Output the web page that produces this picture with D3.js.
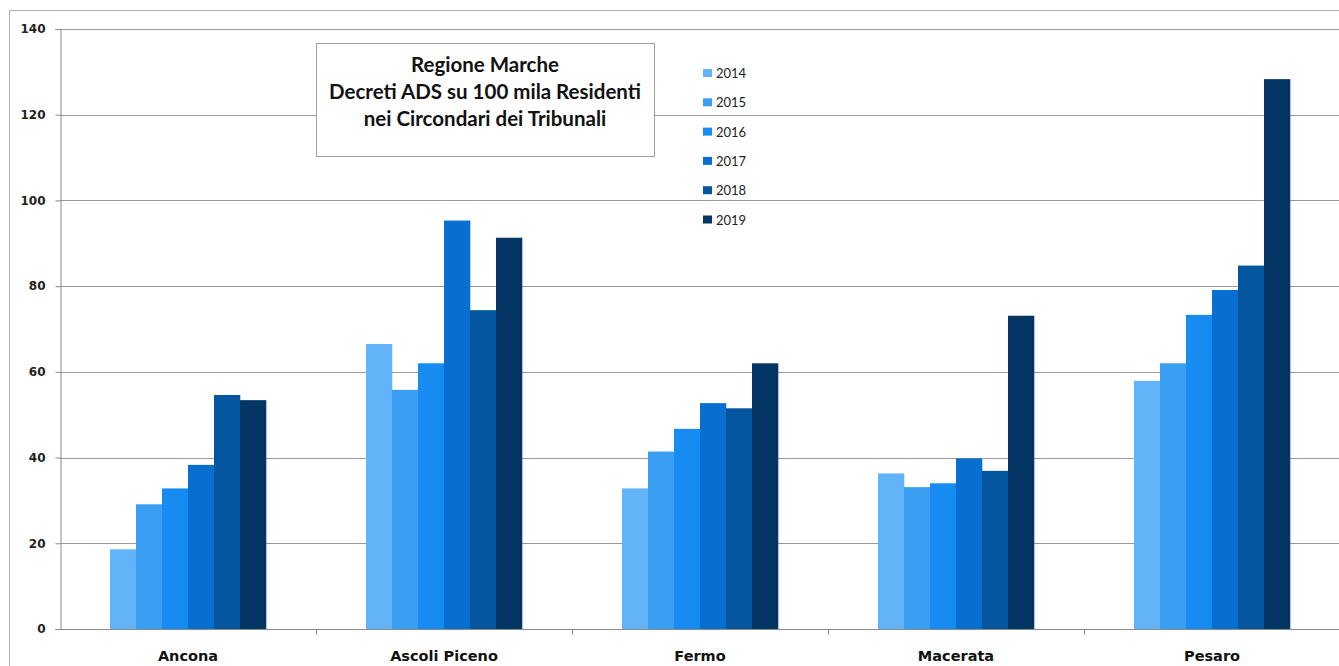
<!DOCTYPE html>
<html>
<head>
<meta charset="utf-8">
<script src="https://cdn.jsdelivr.net/npm/d3@7"></script>
<style>
  body { margin: 0; background: #fff; }
  svg { display: block; }
</style>
</head>
<body>
<div id="plot"></div>
<script>
// Data
var circondari = ["Ancona", "Ascoli Piceno", "Fermo", "Macerata", "Pesaro"];
var anni = ["2014", "2015", "2016", "2017", "2018", "2019"];
var v2014 = [18.6, 66.5, 32.8, 36.3, 57.9];
var v2015 = [29.1, 55.8, 41.4, 33.1, 62.0];
var v2016 = [32.8, 62.0, 46.7, 34.0, 73.3];
var v2017 = [38.3, 95.3, 52.7, 39.8, 79.1];
var v2018 = [54.6, 74.4, 51.5, 36.9, 84.8];
var v2019 = [53.4, 91.3, 62.0, 73.1, 128.3];
var yTicks = [0, 20, 40, 60, 80, 100, 120, 140];
var titleLines = ["Regione Marche", "Decreti ADS su 100 mila Residenti", "nei Circondari dei Tribunali"];

var serie = [v2014, v2015, v2016, v2017, v2018, v2019];
var colori = ["#62b3f7", "#3a9ff3", "#168cf2", "#066fd0", "#04579f", "#053563"];

var W = 1339, H = 666;
var margin = { top: 29, right: -1, bottom: 37, left: 60 },
    width = W - margin.left - margin.right,
    height = H - margin.top - margin.bottom;

var svgRoot = d3.select("div#plot")
    .append("svg")
    .attr("width", W)
    .attr("height", H);

// outer frame of the chart area
svgRoot.append("rect")
    .attr("x", 9.5).attr("y", 10.5)
    .attr("width", W).attr("height", H)
    .attr("fill", "none")
    .attr("stroke", "#b0b0b0");

var svg = svgRoot.append("g")
    .attr("transform", "translate(" + margin.left + "," + margin.top + ")");

var x0 = d3.scaleBand().domain(circondari).range([0, width]).padding(0);
var x1 = d3.scaleBand().domain(anni).range([50, x0.bandwidth() - 50]).padding(0);
var y = d3.scaleLinear().domain([0, 140]).range([height, 0]);

// gridlines
svg.append("g")
    .selectAll("line")
    .data(yTicks.filter(function (d) { return d > 0; }))
    .enter().append("line")
    .attr("x1", 0).attr("x2", width)
    .attr("y1", function (d) { return Math.round(y(d)) + 0.5; })
    .attr("y2", function (d) { return Math.round(y(d)) + 0.5; })
    .attr("stroke", "#9a9a9a")
    .attr("stroke-width", 1);

// bars
var gruppi = svg.selectAll(".grp")
    .data(circondari)
    .enter().append("g")
    .attr("class", "grp")
    .attr("transform", function (d) { return "translate(" + x0(d) + ",0)"; });

gruppi.selectAll("rect")
    .data(function (c, i) {
        return anni.map(function (a, j) { return { anno: a, val: serie[j][i], k: j }; });
    })
    .enter().append("rect")
    .attr("x", function (d) { return x1(d.anno); })
    .attr("width", x1.bandwidth() + 0.3)
    .attr("y", function (d) { return y(d.val); })
    .attr("height", function (d) { return height - y(d.val); })
    .attr("fill", function (d) { return colori[d.k]; });

// y axis
var yAxis = d3.axisLeft(y).tickValues(yTicks).tickSize(5).tickPadding(10);
var gy = svg.append("g").attr("transform", "translate(0.5,0)").call(yAxis);
gy.select(".domain").attr("stroke", "#8a8a8a");
gy.selectAll(".tick line").attr("stroke", "#8a8a8a");
gy.selectAll("text")
    .style("font-family", "'DejaVu Sans', Verdana, sans-serif")
    .style("font-weight", "bold")
    .style("font-size", "12px")
    .attr("fill", "#222");

// x axis: line with ticks between categories
var gx = svg.append("g").attr("transform", "translate(0," + (height + 0.5) + ")");
gx.append("line")
    .attr("x1", 0).attr("x2", width)
    .attr("stroke", "#8a8a8a");
gx.selectAll(".sep")
    .data(circondari.slice(1))
    .enter().append("line")
    .attr("x1", function (d) { return Math.round(x0(d)) + 0.5; })
    .attr("x2", function (d) { return Math.round(x0(d)) + 0.5; })
    .attr("y1", 0).attr("y2", 5)
    .attr("stroke", "#8a8a8a");
gx.selectAll(".lab")
    .data(circondari)
    .enter().append("text")
    .attr("x", function (d) { return x0(d) + x0.bandwidth() / 2; })
    .attr("y", 31)
    .attr("text-anchor", "middle")
    .style("font-family", "'DejaVu Sans', Verdana, sans-serif")
    .style("font-weight", "bold")
    .style("font-size", "14.5px")
    .attr("fill", "#111")
    .text(function (d) { return d; });

// title box
var tb = svgRoot.append("g").attr("transform", "translate(316,43)");
tb.append("rect")
    .attr("x", 0.5).attr("y", 0.5)
    .attr("width", 338).attr("height", 113)
    .attr("fill", "#fff")
    .attr("stroke", "#a0a0a0");
tb.selectAll("text")
    .data(titleLines)
    .enter().append("text")
    .attr("x", 169)
    .attr("y", function (d, i) { return 29 + i * 27; })
    .attr("text-anchor", "middle")
    .style("font-family", "Lato, 'Open Sans', sans-serif")
    .style("font-weight", "bold")
    .style("font-size", "20.5px")
    .attr("fill", "#111")
    .text(function (d) { return d; });

// legend (no background, gridlines pass behind)
var leg = svgRoot.append("g").attr("transform", "translate(703,69)");
var items = leg.selectAll("g")
    .data(anni)
    .enter().append("g")
    .attr("transform", function (d, i) { return "translate(0," + (i * 29.3) + ")"; });
items.append("rect")
    .attr("width", 9).attr("height", 8)
    .attr("fill", function (d, i) { return colori[i]; });
items.append("text")
    .attr("x", 13).attr("y", 9)
    .style("font-family", "Lato, 'Open Sans', sans-serif")
    .style("font-size", "13px")
    .attr("fill", "#222")
    .text(function (d) { return d; });
</script>
</body>
</html>
